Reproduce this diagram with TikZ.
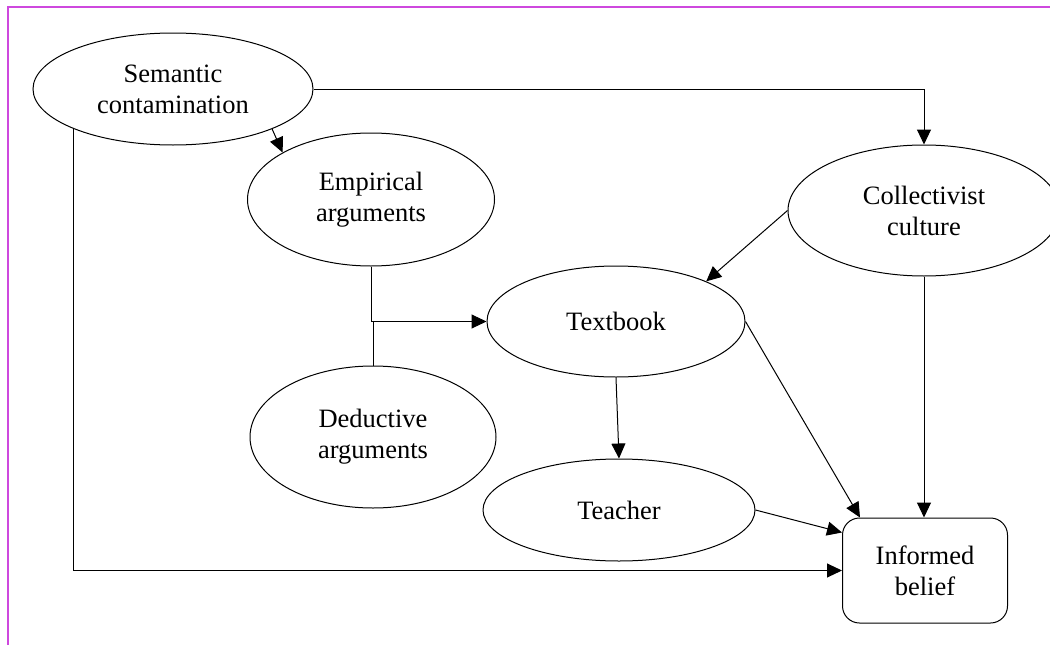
\documentclass[tikz,border=0pt]{standalone}
\usepackage{fontspec}
\setmainfont{Liberation Serif}
\usetikzlibrary{shapes.geometric,arrows.meta,calc}

\definecolor{framecol}{RGB}{206,72,222}

\tikzset{
  concept/.style={draw, ellipse, line width=1pt, inner sep=0pt, align=center,
                  font=\fontsize{26.5}{31}\selectfont},
  outcome/.style={draw, rectangle, rounded corners=17pt, line width=1pt, align=center,
                  minimum width=165pt, minimum height=105pt, inner sep=0pt,
                  font=\fontsize{26.5}{31}\selectfont},
  arr/.style={line width=1pt, -{Triangle[length=15pt,width=14pt]}},
  plain/.style={line width=1pt},
  frameline/.style={draw=framecol, line width=2pt}
}

\begin{document}
\begin{tikzpicture}[x=1pt, y=-1pt]
  \useasboundingbox (0,0) rectangle (1050,645);

  % frame lines along the top and left edge
  \draw[frameline] (1052,7) -- (8,7) -- (8,647);

  % nodes
  \node[concept, minimum width=280pt, minimum height=112pt] (sem) at (173,89)
    {Semantic\\contamination};
  \node[concept, minimum width=247pt, minimum height=133pt] (emp) at (371,199.5)
    {Empirical\\arguments};
  \node[concept, minimum width=246pt, minimum height=142pt] (ded) at (373,437)
    {Deductive\\arguments};
  \node[concept, minimum width=258pt, minimum height=111pt] (tb) at (616,321.5)
    {Textbook};
  \node[concept, minimum width=272pt, minimum height=102pt] (tea) at (619,510)
    {Teacher};
  \node[concept, minimum width=272pt, minimum height=131pt] (col) at (924,210.5)
    {Collectivist\\culture};
  \node[outcome] (inf) at (925,570.5) {Informed\\belief};

  % connectors
  \draw[arr] (sem.east) -| (col.north);
  \draw[arr] (sem.338) -- (emp.152);
  \draw[arr] (sem.202) |- (inf.west);
  \draw[arr] (emp.south) |- (tb.west);
  \draw[plain] (ded.north) -- (ded.north |- tb.west);
  \draw[arr] (col.west) -- (tb.24);
  \draw[arr] (col.south) -- (col.south |- inf.north);
  \draw[arr] (tb.south) -- (tea.north);
  \draw[arr] (tb.east) -- ($(inf.north west)+(18,0)$);
  \draw[arr] (tea.east) -- ($(inf.north west)+(0,15)$);
\end{tikzpicture}
\end{document}
